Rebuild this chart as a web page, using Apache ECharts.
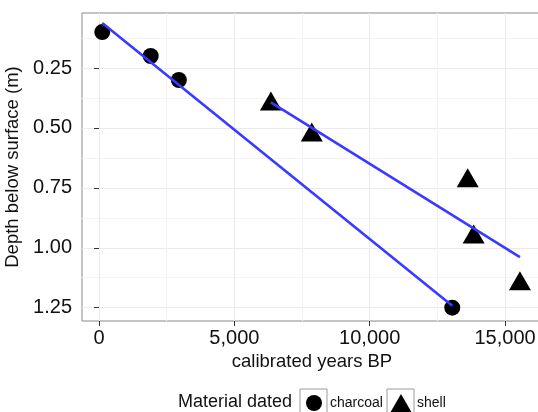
<!DOCTYPE html>
<html><head><meta charset="utf-8">
<script src="https://cdn.jsdelivr.net/npm/echarts@6/dist/echarts.min.js"></script>
<style>html,body{margin:0;padding:0;background:#fff}#c{width:538px;height:412px}</style>
</head><body><div id="c"></div>
<script>
const charcoalYears = [120, 1910, 2950, 13050];
const charcoalDepth = [0.10, 0.20, 0.30, 1.25];
const shellYears = [6350, 7860, 13620, 13840, 15550];
const shellDepth = [0.40, 0.53, 0.72, 0.955, 1.15];
const xTicks = [0, 5000, 10000, 15000];
const xMinor = [2500, 7500, 12500];
const yTicks = [0.25, 0.5, 0.75, 1.0, 1.25];
const yMinor = [0.125, 0.375, 0.625, 0.875, 1.125];
const seriesNames = ['charcoal', 'shell'];
const xTitle = 'calibrated years BP';
const yTitle = 'Depth below surface (m)';
const legendTitle = 'Material dated';

const FONT = "'Liberation Sans', Arial, sans-serif";
const X_MIN = -628, X_MAX = 16365, Y_MIN = 0.0205, Y_MAX = 1.3055;

function fitLine(xs, ys) {
  const n = xs.length;
  const mx = xs.reduce((a, b) => a + b, 0) / n;
  const my = ys.reduce((a, b) => a + b, 0) / n;
  let sxy = 0, sxx = 0;
  for (let i = 0; i < n; i++) { sxy += (xs[i] - mx) * (ys[i] - my); sxx += (xs[i] - mx) ** 2; }
  const b = sxy / sxx, a = my - b * mx;
  const x0 = Math.min(...xs), x1 = Math.max(...xs);
  return [[x0, a + b * x0], [x1, a + b * x1]];
}
const pairs = (xs, ys) => xs.map((x, i) => [x, ys[i]]);

const chart = echarts.init(document.getElementById('c'), null, { renderer: 'canvas' });
chart.setOption({
  animation: false,
  backgroundColor: '#fff',
  textStyle: { fontFamily: FONT },
  grid: { left: 82, top: 13, width: 460, height: 308, show: true, borderColor: '#8a8a8a', borderWidth: 1,
    backgroundColor: '#fff', containLabel: false, outerBoundsMode: 'none' },
  xAxis: [{
    type: 'value', min: X_MIN, max: X_MAX,
    name: xTitle, nameLocation: 'middle', nameGap: 30,
    nameTextStyle: { fontSize: 18.5, color: '#111', fontFamily: FONT },
    axisLine: { show: false },
    axisTick: { show: true, length: 5, customValues: xTicks, lineStyle: { color: '#333', width: 1 } },
    axisLabel: { customValues: xTicks, fontSize: 20, color: '#111', margin: 7, fontFamily: FONT,
      formatter: v => Number(v).toLocaleString('en-US') },
    splitLine: { show: true, lineStyle: { color: '#ebebeb', width: 1 } }
  }, {
    type: 'value', min: X_MIN, max: X_MAX, position: 'bottom',
    axisLine: { show: false }, axisLabel: { show: false },
    axisTick: { show: false, customValues: xMinor },
    splitLine: { show: true, lineStyle: { color: '#f3f3f3', width: 1 } }
  }],
  yAxis: [{
    type: 'value', inverse: true, min: Y_MIN, max: Y_MAX,
    name: yTitle, nameLocation: 'middle', nameGap: 55, nameRotate: 90,
    nameTextStyle: { fontSize: 18.5, color: '#111', fontFamily: FONT },
    axisLine: { show: false },
    axisTick: { show: true, length: 5, customValues: yTicks, lineStyle: { color: '#333', width: 1 } },
    axisLabel: { customValues: yTicks, fontSize: 20, color: '#111', margin: 10, fontFamily: FONT,
      formatter: v => Number(v).toFixed(2) },
    splitLine: { show: true, lineStyle: { color: '#ebebeb', width: 1 } }
  }, {
    type: 'value', inverse: true, min: Y_MIN, max: Y_MAX, position: 'left',
    axisLine: { show: false }, axisLabel: { show: false },
    axisTick: { show: false, customValues: yMinor },
    splitLine: { show: true, lineStyle: { color: '#f3f3f3', width: 1 } }
  }],
  legend: [{
    data: [{ name: seriesNames[0], icon: 'circle' }],
    left: 306, top: 395, itemWidth: 16, itemHeight: 16, padding: 0,
    textStyle: { fontSize: 14, color: '#111', fontFamily: FONT, padding: [0, 0, 0, 3] },
    selectedMode: false
  }, {
    data: [{ name: seriesNames[1], icon: 'triangle' }],
    left: 390, top: 394, itemWidth: 22, itemHeight: 19, padding: 0,
    textStyle: { fontSize: 14, color: '#111', fontFamily: FONT },
    selectedMode: false
  }],
  graphic: [
    { type: 'text', left: 178, top: 393, z: 10, style: { text: legendTitle, fontSize: 18, fill: '#111', fontFamily: FONT } },
    { type: 'rect', shape: { x: 300, y: 389, width: 27, height: 30 }, z: 1, style: { fill: '#fff', stroke: '#9a9a9a', lineWidth: 1 } },
    { type: 'rect', shape: { x: 387, y: 389, width: 27, height: 30 }, z: 1, style: { fill: '#fff', stroke: '#9a9a9a', lineWidth: 1 } }
  ],
  series: [{
    name: seriesNames[0], type: 'scatter', data: pairs(charcoalYears, charcoalDepth),
    symbol: 'circle', symbolSize: 16, itemStyle: { color: '#000', opacity: 1 }, z: 3
  }, {
    name: seriesNames[1], type: 'scatter', data: pairs(shellYears, shellDepth),
    symbol: 'triangle', symbolSize: [22, 19], symbolOffset: [0, -3], itemStyle: { color: '#000', opacity: 1 }, z: 3
  }, {
    name: 'charcoal fit', type: 'line', data: fitLine(charcoalYears, charcoalDepth),
    showSymbol: false, symbol: 'none', lineStyle: { color: '#3a3aff', width: 2.6 }, z: 4, silent: true
  }, {
    name: 'shell fit', type: 'line', data: fitLine(shellYears, shellDepth),
    showSymbol: false, symbol: 'none', lineStyle: { color: '#3a3aff', width: 2.6 }, z: 4, silent: true
  }]
});
</script></body></html>
